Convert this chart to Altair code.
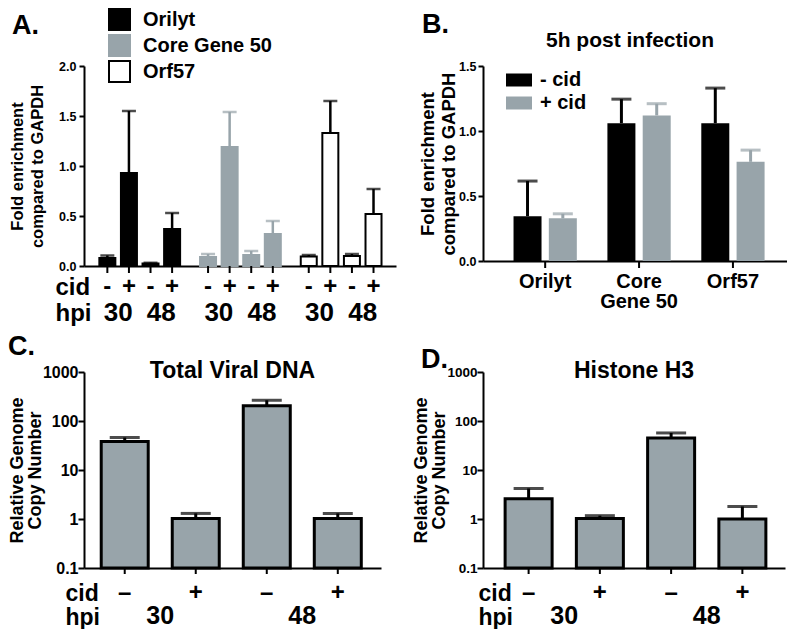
import altair as alt
import pandas as pd

FONT = "Liberation Sans"
GRAY = "#98a4aa"

# ---------------- Panel A data ----------------
a_genes = ["Orilyt", "Core Gene 50", "Orf57"]
a_conditions = ["30 -", "30 +", "48 -", "48 +"]
a_cid = ["-", "+", "-", "+"]
a_hpi = ["30", "30", "48", "48"]
a_orilyt_mean = [0.08, 0.93, 0.025, 0.37]
a_orilyt_top = [0.105, 1.55, 0.032, 0.53]
a_core_mean = [0.09, 1.19, 0.11, 0.32]
a_core_top = [0.12, 1.54, 0.15, 0.45]
a_orf57_mean = [0.095, 1.33, 0.10, 0.52]
a_orf57_top = [0.11, 1.65, 0.12, 0.77]

# ---------------- Panel B data ----------------
b_targets = ["Orilyt", "Core Gene 50", "Orf57"]
b_target_labels = ["Orilyt", "Core\nGene 50", "Orf57"]
b_treatments = ["- cid", "+ cid"]
b_minus_mean = [0.345, 1.06, 1.06]
b_minus_top = [0.615, 1.245, 1.33]
b_plus_mean = [0.328, 1.12, 0.763]
b_plus_top = [0.363, 1.21, 0.853]

# ---------------- Panels C / D data ----------------
cd_hpi = ["30", "30", "48", "48"]
cd_cid = ["–", "+", "–", "+"]
c_mean = [38, 1.02, 205, 1.02]
c_top = [46, 1.3, 265, 1.3]
d_mean = [2.6, 1.02, 45, 1.0]
d_top = [4.2, 1.17, 57, 1.8]

row_labels = ["cid", "hpi"]

# ---------------- tables ----------------
rowsA = []
for gi, (gene, means, tops) in enumerate(zip(a_genes,
                                             [a_orilyt_mean, a_core_mean, a_orf57_mean],
                                             [a_orilyt_top, a_core_top, a_orf57_top])):
    for si, (cond, cid, hpi, m, t) in enumerate(zip(a_conditions, a_cid, a_hpi, means, tops)):
        rowsA.append(dict(gene=gene, gi=gi, cond=cond, si=si, cid=cid, hpi=hpi, mean=m, top=t))
dfA = pd.DataFrame(rowsA)

rowsB = []
for si, (trt, means, tops) in enumerate(zip(b_treatments, [b_minus_mean, b_plus_mean],
                                            [b_minus_top, b_plus_top])):
    for gi, (tgt, m, t) in enumerate(zip(b_targets, means, tops)):
        rowsB.append(dict(target=tgt, gi=gi, treatment=trt, si=si, mean=m, top=t))
dfB = pd.DataFrame(rowsB)
dfBlab = pd.DataFrame(dict(target=b_target_labels, gi=list(range(len(b_targets)))))

dfC = pd.DataFrame(dict(hpi=cd_hpi, cid=cd_cid, idx=list(range(4)), mean=c_mean, top=c_top))
dfD = pd.DataFrame(dict(hpi=cd_hpi, cid=cd_cid, idx=list(range(4)), mean=d_mean, top=d_top))


def T(size, **kw):
    d = dict(font=FONT, fontWeight="bold", fontSize=size, color="black")
    d.update(kw)
    return d


def label(text, size, x, y, align="left"):
    return alt.Chart(pd.DataFrame({"label": [text]})).mark_text(
        **T(size, align=align, baseline="alphabetic")
    ).encode(x=alt.value(x), y=alt.value(y), text="label:N")


def bottom_axis(title_x, title_y, size, line_h):
    # x axis: domain line only; its title carries the "cid" / "hpi" row captions
    return alt.Axis(labels=False, ticks=False, grid=False, domainWidth=2,
                    title=row_labels, titleX=title_x, titleY=title_y, titleAngle=0,
                    titleAlign="left", titleBaseline="alphabetic", titleFontSize=size,
                    titleLineHeight=line_h)


def left_axis(values, fmt, lsize, tsize, lpad, ttl_size, ttl_lh, ttl_x, h):
    return alt.Axis(values=values, format=fmt, labelFontSize=lsize, tickSize=tsize,
                    labelPadding=lpad, titleFontSize=ttl_size, titleLineHeight=ttl_lh,
                    titleX=ttl_x, titleY=h / 2, titleAngle=270, titleBaseline="bottom",
                    titleAlign="center")


# ================= Panel A =================
WA, HA = 312, 200
xA = alt.X("pos:Q", title=row_labels,
           scale=alt.Scale(domain=[-0.85, 13.14], nice=False, zero=False),
           axis=bottom_axis(-29, 28, 24, 26))
axisA = left_axis([0, 0.5, 1, 1.5, 2], ".1f", 12.5, 5, 3, 16.5, 20, -59, HA)
scaleA = alt.Scale(domain=[0, 2])
titleA = ["Fold enrichment", "compared to GAPDH"]


def yA(field):
    return alt.Y(field, scale=scaleA, axis=axisA, title=titleA)


legA = alt.Legend(title=None, orient="none", legendX=24, legendY=-58,
                  symbolType="square", symbolSize=441, symbolStrokeWidth=2,
                  labelFont=FONT, labelFontWeight="bold",
                  labelFontSize=20, labelColor="black", labelOffset=12, rowPadding=-5,
                  padding=0)
fillA = alt.Fill("gene:N", sort=a_genes,
                 scale=alt.Scale(domain=a_genes, range=["black", GRAY, "white"]), legend=legA)
strokeA = alt.Stroke("gene:N", sort=a_genes,
                     scale=alt.Scale(domain=a_genes, range=["black", GRAY, "black"]),
                     legend=legA)
colorA = alt.Color("gene:N", sort=a_genes,
                   scale=alt.Scale(domain=a_genes, range=["black", GRAY, "black"]), legend=None)

baseA = alt.Chart(dfA).transform_calculate(pos="datum.gi * 4.665 + datum.si")
barsA = baseA.mark_bar(size=16, strokeWidth=2).encode(
    x=xA, y=yA("mean:Q"), fill=fillA, stroke=strokeA)
errA = baseA.mark_rule(strokeWidth=2.5).encode(x=xA, y=yA("mean:Q"), y2="top:Q", color=colorA)
capA = baseA.mark_tick(thickness=2.5, size=14, orient="horizontal").encode(
    x=xA, y=yA("top:Q"), color=colorA)
ticksA = baseA.mark_rule(strokeWidth=2, color="black").encode(
    x=xA, y=alt.value(HA), y2=alt.value(HA + 7))
cidA = baseA.mark_text(**T(24, baseline="alphabetic")).encode(
    x=xA, y=alt.value(HA + 28), text="cid:N")
hpiA = baseA.transform_filter("datum.cid == '+'").transform_calculate(
    pos="datum.pos - 0.5").mark_text(**T(26, baseline="alphabetic")).encode(
    x=xA, y=alt.value(HA + 55), text="hpi:N")

panelA = alt.layer(
    barsA, errA, capA, ticksA, cidA, hpiA,
    label("A.", 27, -72, -32),
).properties(width=WA, height=HA)

# ================= Panel B =================
WB, HB = 304, 195
xB = alt.X("pos:Q", title=None,
           scale=alt.Scale(domain=[-1.12, 7.21], nice=False, zero=False),
           axis=alt.Axis(labels=False, ticks=False, grid=False, domainWidth=2))
axisB = left_axis([0, 0.5, 1, 1.5], ".1f", 12.5, 5, 2, 18.5, 21, -46, HB)
scaleB = alt.Scale(domain=[0, 1.5])


def yB(field):
    return alt.Y(field, scale=scaleB, axis=axisB, title=titleA)


legB = alt.Legend(title=None, orient="none", legendX=23, legendY=1,
                  symbolType="M-1,-0.5H1V0.5H-1Z", symbolSize=676, symbolStrokeWidth=0,
                  labelFont=FONT, labelFontWeight="bold", labelFontSize=20,
                  labelColor="black", labelOffset=8, rowPadding=0, padding=0)
fillB = alt.Fill("treatment:N", sort=b_treatments,
                 scale=alt.Scale(domain=b_treatments, range=["black", GRAY]), legend=legB)
colorB = alt.Color("treatment:N", sort=b_treatments,
                   scale=alt.Scale(domain=b_treatments, range=["black", GRAY]), legend=None)

baseB = alt.Chart(dfB).transform_calculate(pos="datum.gi * 2.66 + datum.si")
barsB = baseB.mark_bar(size=28).encode(x=xB, y=yB("mean:Q"), fill=fillB)
errB = baseB.mark_rule(strokeWidth=3).encode(x=xB, y=yB("mean:Q"), y2="top:Q", color=colorB)
capB = baseB.mark_tick(thickness=3, size=20, orient="horizontal").encode(
    x=xB, y=yB("top:Q"), color=colorB)
baseBlab = alt.Chart(dfBlab).transform_calculate(pos="datum.gi * 2.66 + 0.5")
ticksB = baseBlab.mark_rule(strokeWidth=2, color="black").encode(
    x=xB, y=alt.value(HB), y2=alt.value(HB + 7))
labB = baseBlab.mark_text(**T(20, baseline="alphabetic", lineBreak="\n", lineHeight=20)).encode(
    x=xB, y=alt.value(HB + 27), text="target:N")

panelB = alt.layer(
    barsB, errB, capB, ticksB, labB,
    label("5h post infection", 21, 147, -19, align="center"),
    label("B.", 27, -61, -33),
).properties(width=WB, height=HB)


# ================= Panels C / D =================
def cd_panel(df, W, H, dom, lsize, titleX, title, letter, letter_x, letter_y, row_x):
    x = alt.X("pos:Q", title=row_labels,
              scale=alt.Scale(domain=dom, nice=False, zero=False),
              axis=bottom_axis(row_x, 32, 23, 24))
    axis = left_axis([0.1, 1, 10, 100, 1000], "~g", lsize, 6, 0, 18, 18, titleX, H)
    scale = alt.Scale(type="log", domain=[0.1, 1000])
    ttl = ["Relative Genome", "Copy Number"]

    def y(field):
        return alt.Y(field, scale=scale, axis=axis, title=ttl)

    base = alt.Chart(df).transform_calculate(pos="datum.idx")
    bars = base.mark_bar(size=47, fill=GRAY, stroke="black", strokeWidth=3).encode(
        x=x, y=y("mean:Q"), y2=alt.Y2(datum=0.1))
    err = base.mark_rule(color="black", strokeWidth=3).encode(
        x=x, y=y("mean:Q"), y2="top:Q")
    cap = base.mark_tick(color="black", thickness=3, size=30, orient="horizontal").encode(
        x=x, y=y("top:Q"))
    ticks = base.mark_rule(color="black", strokeWidth=2).encode(
        x=x, y=alt.value(H), y2=alt.value(H + 6))
    cid = base.mark_text(**T(24, baseline="alphabetic")).encode(
        x=x, y=alt.value(H + 32), text="cid:N")
    hpi = base.transform_filter("datum.cid == '+'").transform_calculate(
        pos="datum.pos - 0.5").mark_text(**T(25, baseline="alphabetic")).encode(
        x=x, y=alt.value(H + 56), text="hpi:N")
    return alt.layer(
        bars, err, cap, ticks, cid, hpi,
        label(title, 23, W / 2, 6, align="center"),
        label(letter, 27, letter_x, letter_y),
    ).properties(width=W, height=H)


panelC = cd_panel(dfC, 297, 196, [-0.503, 3.538], 16, -58, "Total Viral DNA", "C.",
                  -76, -17, -19)
panelD = cd_panel(dfD, 302, 196, [-0.57, 3.528], 13.5, -53, "Histone H3", "D.",
                  -62, -4, -5)

chart = alt.concat(
    panelA, panelB, panelC, panelD,
    columns=2, spacing={"row": 106, "column": 87}, bounds="flush", align="each",
).resolve_scale(
    fill="independent", stroke="independent", color="independent"
).resolve_legend(
    fill="independent", stroke="independent", color="independent"
).properties(padding=0).configure_view(stroke=None).configure_axis(
    grid=False, labelFont=FONT, titleFont=FONT, labelFontWeight="bold",
    titleFontWeight="bold", labelColor="black", titleColor="black",
    domainColor="black", tickColor="black", domainWidth=2, tickWidth=2,
)

chart.save("out.html", embed_options={"renderer": "svg", "actions": False})
